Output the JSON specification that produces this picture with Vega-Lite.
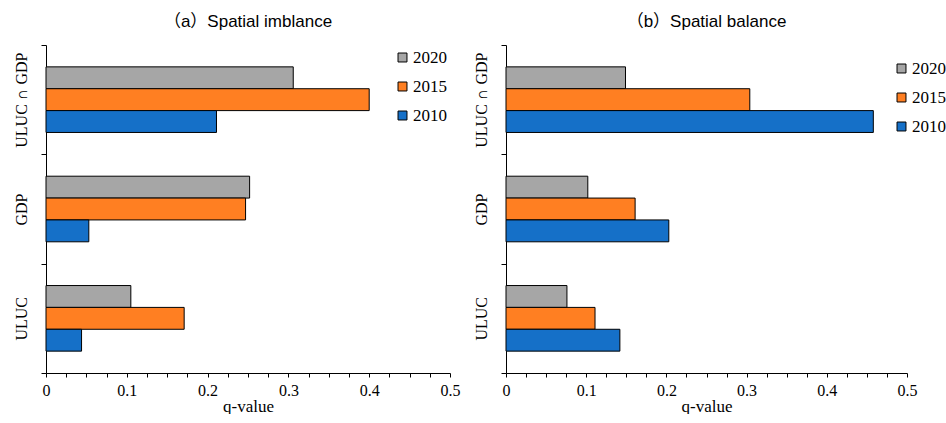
{
  "$schema": "https://vega.github.io/schema/vega-lite/v6.json",
  "background": "white",
  "padding": {"left": 12, "top": 12, "right": 0, "bottom": 0},
  "spacing": 12,
  "config": {
    "view": {"stroke": null},
    "font": "Liberation Serif",
    "title": {"font": "Liberation Sans, Noto Sans CJK SC", "fontSize": 17, "fontWeight": "normal", "color": "#000", "anchor": "middle", "offset": 14},
    "axis": {"domainColor": "#000", "tickColor": "#000", "labelColor": "#000", "titleColor": "#000", "labelFont": "Liberation Serif", "titleFont": "Liberation Serif", "labelFontSize": 16, "titleFontSize": 17, "titleFontWeight": "normal", "grid": false, "domainWidth": 1, "tickWidth": 1},
    "legend": {"labelFont": "Liberation Serif", "labelFontSize": 17, "labelColor": "#000", "symbolType": "square", "symbolSize": 80, "symbolStrokeColor": "#000", "symbolStrokeWidth": 1, "rowPadding": 11, "padding": 0, "labelOffset": 2}
  },
  "datasets": {
    "q": [
      {"panel": "a", "factor": "ULUC ∩ GDP", "year": "2020", "q": 0.306},
      {"panel": "a", "factor": "ULUC ∩ GDP", "year": "2015", "q": 0.400},
      {"panel": "a", "factor": "ULUC ∩ GDP", "year": "2010", "q": 0.211},
      {"panel": "a", "factor": "GDP", "year": "2020", "q": 0.252},
      {"panel": "a", "factor": "GDP", "year": "2015", "q": 0.247},
      {"panel": "a", "factor": "GDP", "year": "2010", "q": 0.053},
      {"panel": "a", "factor": "ULUC", "year": "2020", "q": 0.105},
      {"panel": "a", "factor": "ULUC", "year": "2015", "q": 0.171},
      {"panel": "a", "factor": "ULUC", "year": "2010", "q": 0.044},
      {"panel": "b", "factor": "ULUC ∩ GDP", "year": "2020", "q": 0.149},
      {"panel": "b", "factor": "ULUC ∩ GDP", "year": "2015", "q": 0.304},
      {"panel": "b", "factor": "ULUC ∩ GDP", "year": "2010", "q": 0.458},
      {"panel": "b", "factor": "GDP", "year": "2020", "q": 0.102},
      {"panel": "b", "factor": "GDP", "year": "2015", "q": 0.161},
      {"panel": "b", "factor": "GDP", "year": "2010", "q": 0.203},
      {"panel": "b", "factor": "ULUC", "year": "2020", "q": 0.076},
      {"panel": "b", "factor": "ULUC", "year": "2015", "q": 0.111},
      {"panel": "b", "factor": "ULUC", "year": "2010", "q": 0.142}
    ]
  },
  "resolve": {"scale": {"color": "independent"}, "legend": {"color": "independent"}},
  "hconcat": [
    {
      "title": "（a）Spatial imblance",
      "width": 404,
      "height": 328,
      "data": {"name": "q"},
      "transform": [{"filter": "datum.panel === 'a'"}],
      "mark": {"type": "bar", "stroke": "#000", "strokeWidth": 1},
      "encoding": {
        "y": {"field": "factor", "type": "nominal", "sort": ["ULUC ∩ GDP", "GDP", "ULUC"],
          "scale": {"paddingInner": 0, "paddingOuter": 0},
          "axis": {"title": null, "labelAngle": -90, "labelAlign": "center", "labelBaseline": "bottom", "labelPadding": 12, "tickBand": "extent", "tickSize": 5}},
        "yOffset": {"field": "year", "type": "nominal", "sort": ["2020", "2015", "2010"], "scale": {"paddingInner": 0, "paddingOuter": 1.155}},
        "x": {"field": "q", "type": "quantitative", "scale": {"domain": [0, 0.5], "nice": false},
          "axis": {"title": "q-value", "values": [0,0.025,0.05,0.075,0.1,0.125,0.15,0.175,0.2,0.225,0.25,0.275,0.3,0.325,0.35,0.375,0.4,0.425,0.45,0.475,0.5],
            "labelExpr": "abs(round(datum.value*10) - datum.value*10) < 0.000001 ? format(datum.value, '~g') : ''",
            "labelOverlap": false, "labelFlush": false, "tickSize": 4, "labelPadding": 5, "titlePadding": 0}},
        "color": {"field": "year", "type": "nominal",
          "scale": {"domain": ["2020", "2015", "2010"], "range": ["#A6A6A6", "#FF7F22", "#1570C8"]},
          "legend": {"title": null, "orient": "none", "legendX": 348, "legendY": 4}}
      }
    },
    {
      "title": "（b）Spatial balance",
      "width": 401,
      "height": 328,
      "data": {"name": "q"},
      "transform": [{"filter": "datum.panel === 'b'"}],
      "mark": {"type": "bar", "stroke": "#000", "strokeWidth": 1},
      "encoding": {
        "y": {"field": "factor", "type": "nominal", "sort": ["ULUC ∩ GDP", "GDP", "ULUC"],
          "scale": {"paddingInner": 0, "paddingOuter": 0},
          "axis": {"title": null, "labelAngle": -90, "labelAlign": "center", "labelBaseline": "bottom", "labelPadding": 12, "tickBand": "extent", "tickSize": 5}},
        "yOffset": {"field": "year", "type": "nominal", "sort": ["2020", "2015", "2010"], "scale": {"paddingInner": 0, "paddingOuter": 1.155}},
        "x": {"field": "q", "type": "quantitative", "scale": {"domain": [0, 0.5], "nice": false},
          "axis": {"title": "q-value", "values": [0,0.025,0.05,0.075,0.1,0.125,0.15,0.175,0.2,0.225,0.25,0.275,0.3,0.325,0.35,0.375,0.4,0.425,0.45,0.475,0.5],
            "labelExpr": "abs(round(datum.value*10) - datum.value*10) < 0.000001 ? format(datum.value, '~g') : ''",
            "labelOverlap": false, "labelFlush": false, "tickSize": 4, "labelPadding": 5, "titlePadding": 0}},
        "color": {"field": "year", "type": "nominal",
          "scale": {"domain": ["2020", "2015", "2010"], "range": ["#A6A6A6", "#FF7F22", "#1570C8"]},
          "legend": {"title": null, "orient": "none", "legendX": 387, "legendY": 15}}
      }
    }
  ]
}
